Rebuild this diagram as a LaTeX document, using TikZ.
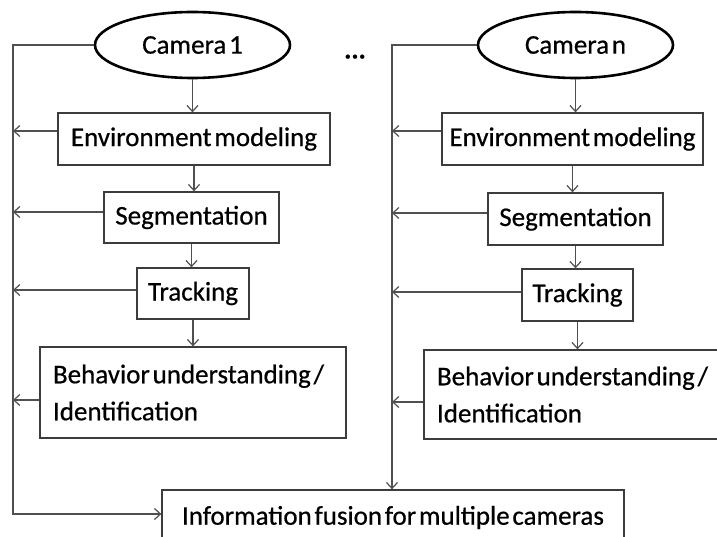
\documentclass[tikz,border=0pt]{standalone}
\usepackage{fontspec}
\setmainfont[WordSpace={0.45,0.2,0.1},FakeBold=0.6]{Carlito}
\usetikzlibrary{shapes.geometric,arrows.meta}
\definecolor{boxgray}{HTML}{3C3C3C}
\definecolor{linegray}{HTML}{505050}
\begin{document}
\begin{tikzpicture}[x=1pt,y=-1pt,
  font=\fontsize{27}{37}\selectfont,
  box/.style={draw=boxgray, line width=1.3pt, inner sep=0pt, align=center},
  twoline/.style={box, text width=280pt, inner xsep=13pt, align=left},
  cam/.style={ellipse, draw=black, line width=2.6pt, minimum width=195pt,
    minimum height=66pt, inner sep=0pt},
  arr/.style={draw=linegray, line width=1.2pt,
    -{Straight Barb[length=6pt,width=11pt]}}]
\useasboundingbox (0,0) rectangle (717,537);
\clip (0,0) rectangle (717,537);

% camera sources
\node[cam] (cam1) at (192.5,45) {Camera 1};
\node[cam] (camn) at (575.5,45) {Camera n};
\node[font=\fontsize{27}{37}\selectfont\bfseries, anchor=base] (dots) at (355,58.5) {...};

% processing chain, camera 1
\node[box, minimum width=272pt, minimum height=52pt] (env1) at (194,139) {Environment modeling};
\node[box, minimum width=175pt, minimum height=51pt] (seg1) at (191.5,217.5) {Segmentation};
\node[box, minimum width=112pt, minimum height=51pt] (trk1) at (193,293.5) {Tracking};
\node[twoline, minimum width=306pt, minimum height=91pt]
  (beh1) at (193,392.5) {\spaceskip=0pt\mbox{Behavior understanding /}\\Identification};

% processing chain, camera n
\node[box, minimum width=261pt, minimum height=52pt] (env2) at (572.5,139) {Environment modeling};
\node[box, minimum width=175pt, minimum height=52pt] (seg2) at (575.5,219) {Segmentation};
\node[box, minimum width=111pt, minimum height=52pt] (trk2) at (577.5,295) {Tracking};
\node[twoline, minimum width=306pt, minimum height=89pt]
  (beh2) at (577,394.5) {\spaceskip=0pt\mbox{Behavior understanding /}\\Identification};

% fusion stage
\node[box, minimum width=462pt, minimum height=55pt] (fusion) at (393,517.5)
  {Information fusion for multiple cameras};

% side buses
\coordinate (bus1) at (13,45);
\coordinate (bus2) at (392,45);

% vertical flow
\draw[arr] (cam1.south) -- (cam1.south |- env1.north);
\draw[arr] (env1.south) -- (env1.south |- seg1.north);
\draw[arr] (seg1.south) -- (seg1.south |- trk1.north);
\draw[arr] (trk1.south) -- (trk1.south |- beh1.north);
\draw[arr] (camn.south) -- (camn.south |- env2.north);
\draw[arr] (env2.south) -- (env2.south |- seg2.north);
\draw[arr] (seg2.south) -- (seg2.south |- trk2.north);
\draw[arr] (trk2.south) -- (trk2.south |- beh2.north);

% taps into the buses
\path ([yshift=8pt]env1.west) coordinate (e1o)
      ([yshift=5.5pt]seg1.west) coordinate (s1o)
      ([yshift=3.5pt]trk1.west) coordinate (t1o)
      ([yshift=-7.5pt]beh1.west) coordinate (b1o)
      ([yshift=8pt]env2.west) coordinate (e2o)
      ([yshift=6pt]seg2.west) coordinate (s2o)
      ([yshift=3pt]trk2.west) coordinate (t2o)
      ([yshift=-7.5pt]beh2.west) coordinate (b2o);
\draw[arr] (e1o) -- (e1o -| bus1);
\draw[arr] (s1o) -- (s1o -| bus1);
\draw[arr] (t1o) -- (t1o -| bus1);
\draw[arr] (b1o) -- (b1o -| bus1);
\draw[arr] (e2o) -- (e2o -| bus2);
\draw[arr] (s2o) -- (s2o -| bus2);
\draw[arr] (t2o) -- (t2o -| bus2);
\draw[arr] (b2o) -- (b2o -| bus2);

% buses into the fusion stage
\draw[arr] (cam1.west) -- (bus1) |- ([yshift=3.5pt]fusion.west);
\draw[arr] (camn.west) -- (bus2) -- (bus2 |- fusion.north);
\end{tikzpicture}
\end{document}
